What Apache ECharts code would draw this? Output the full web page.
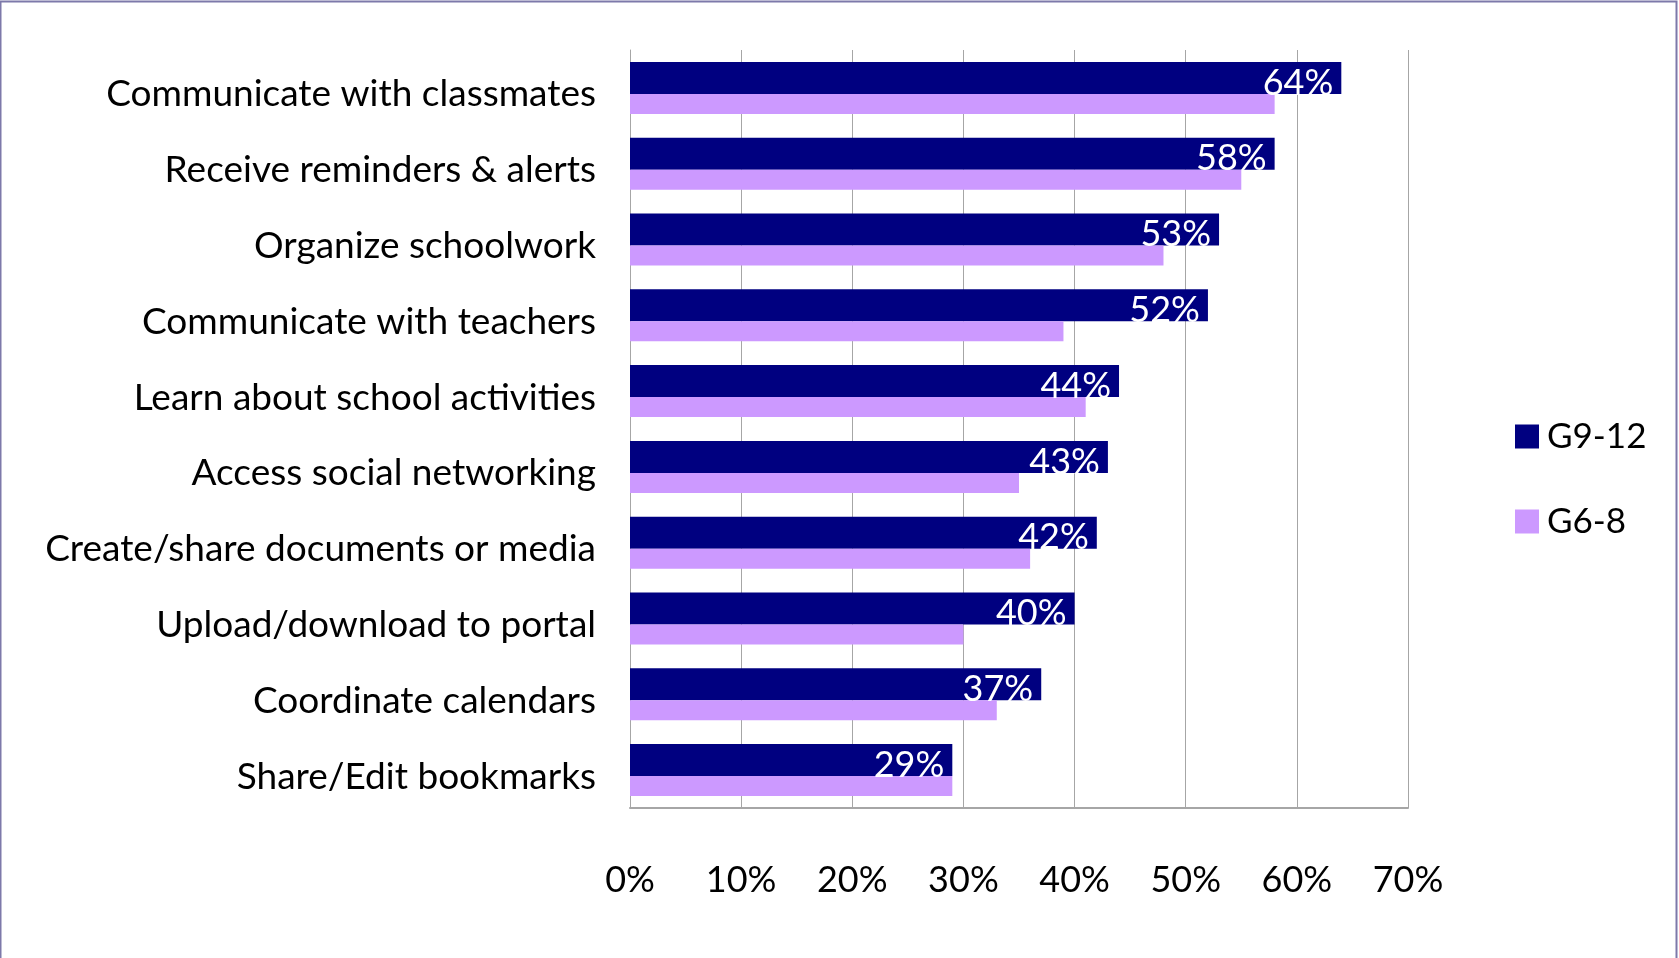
<!DOCTYPE html>
<html>
<head>
<meta charset="utf-8">
<title>Student uses</title>
<script src="https://cdn.jsdelivr.net/npm/echarts@6/dist/echarts.min.js"></script>
<style>
  html, body { margin: 0; padding: 0; background: #fff; }
  #chart { width: 1679px; height: 958px; }
</style>
</head>
<body>
<div id="chart"></div>
<script>
const categories = [
  'Communicate with classmates',
  'Receive reminders & alerts',
  'Organize schoolwork',
  'Communicate with teachers',
  'Learn about school activities',
  'Access social networking',
  'Create/share documents or media',
  'Upload/download to portal',
  'Coordinate calendars',
  'Share/Edit bookmarks'
]
const g912 = [64, 58, 53, 52, 44, 43, 42, 40, 37, 29]
const g68 = [58, 55, 48, 39, 41, 35, 36, 30, 33, 29]
const xTicks = [0, 10, 20, 30, 40, 50, 60, 70]

const font = "Lato, 'Open Sans', sans-serif"

const chart = echarts.init(document.getElementById('chart'), null, { renderer: 'canvas' })

chart.setOption({
  animation: false,
  backgroundColor: '#fff',
  textStyle: { fontFamily: font },
  graphic: [{
    type: 'polyline',
    shape: { points: [[0.5, 958], [0.5, 1.5], [1676.5, 1.5], [1676.5, 958]] },
    style: { stroke: '#7d79aa', lineWidth: 2, fill: null }
  }],
  grid: {
    left: 630,
    right: 271,
    top: 50,
    bottom: 150,
    containLabel: false,
    outerBoundsMode: 'none'
  },
  legend: {
    orient: 'vertical',
    left: 1510,
    top: 414,
    itemWidth: 24,
    itemHeight: 24,
    itemGap: 50,
    icon: 'rect',
    textStyle: { fontFamily: font, fontSize: 35, color: '#000', padding: [0, 0, 0, 3] },
    data: ['G9-12', 'G6-8']
  },
  xAxis: {
    type: 'value',
    min: xTicks[0],
    max: xTicks[xTicks.length - 1],
    interval: 10,
    axisLine: { show: true, lineStyle: { color: '#a6a6a6', width: 2 } },
    axisTick: { show: false },
    splitLine: { show: true, lineStyle: { color: '#a6a6a6', width: 1 } },
    axisLabel: {
      formatter: v => v + '%',
      fontFamily: font,
      fontSize: 36,
      color: '#000',
      margin: 54
    }
  },
  yAxis: {
    type: 'category',
    inverse: true,
    data: categories,
    axisLine: { show: true, lineStyle: { color: '#a6a6a6', width: 1 } },
    axisTick: { show: false },
    axisLabel: {
      margin: 34,
      // push the text a few px below the band centre, like the original
      formatter: v => '{t|' + v + '}',
      rich: {
        t: {
          fontFamily: font,
          fontSize: 37,
          color: '#000',
          padding: [13, 0, 0, 0]
        }
      }
    }
  },
  series: [{
    name: 'G9-12',
    type: 'bar',
    data: g912,
    barWidth: 32,
    barGap: '0%',
    itemStyle: { color: '#000080' },
    label: {
      show: true,
      position: 'insideRight',
      distance: 8,
      offset: [0, 5],
      formatter: '{c}%',
      color: '#fff',
      fontFamily: font,
      fontSize: 36
    }
  }, {
    name: 'G6-8',
    type: 'bar',
    data: g68,
    barWidth: 20,
    barGap: '0%',
    itemStyle: { color: '#cc99ff' }
  }]
})
</script>
</body>
</html>
